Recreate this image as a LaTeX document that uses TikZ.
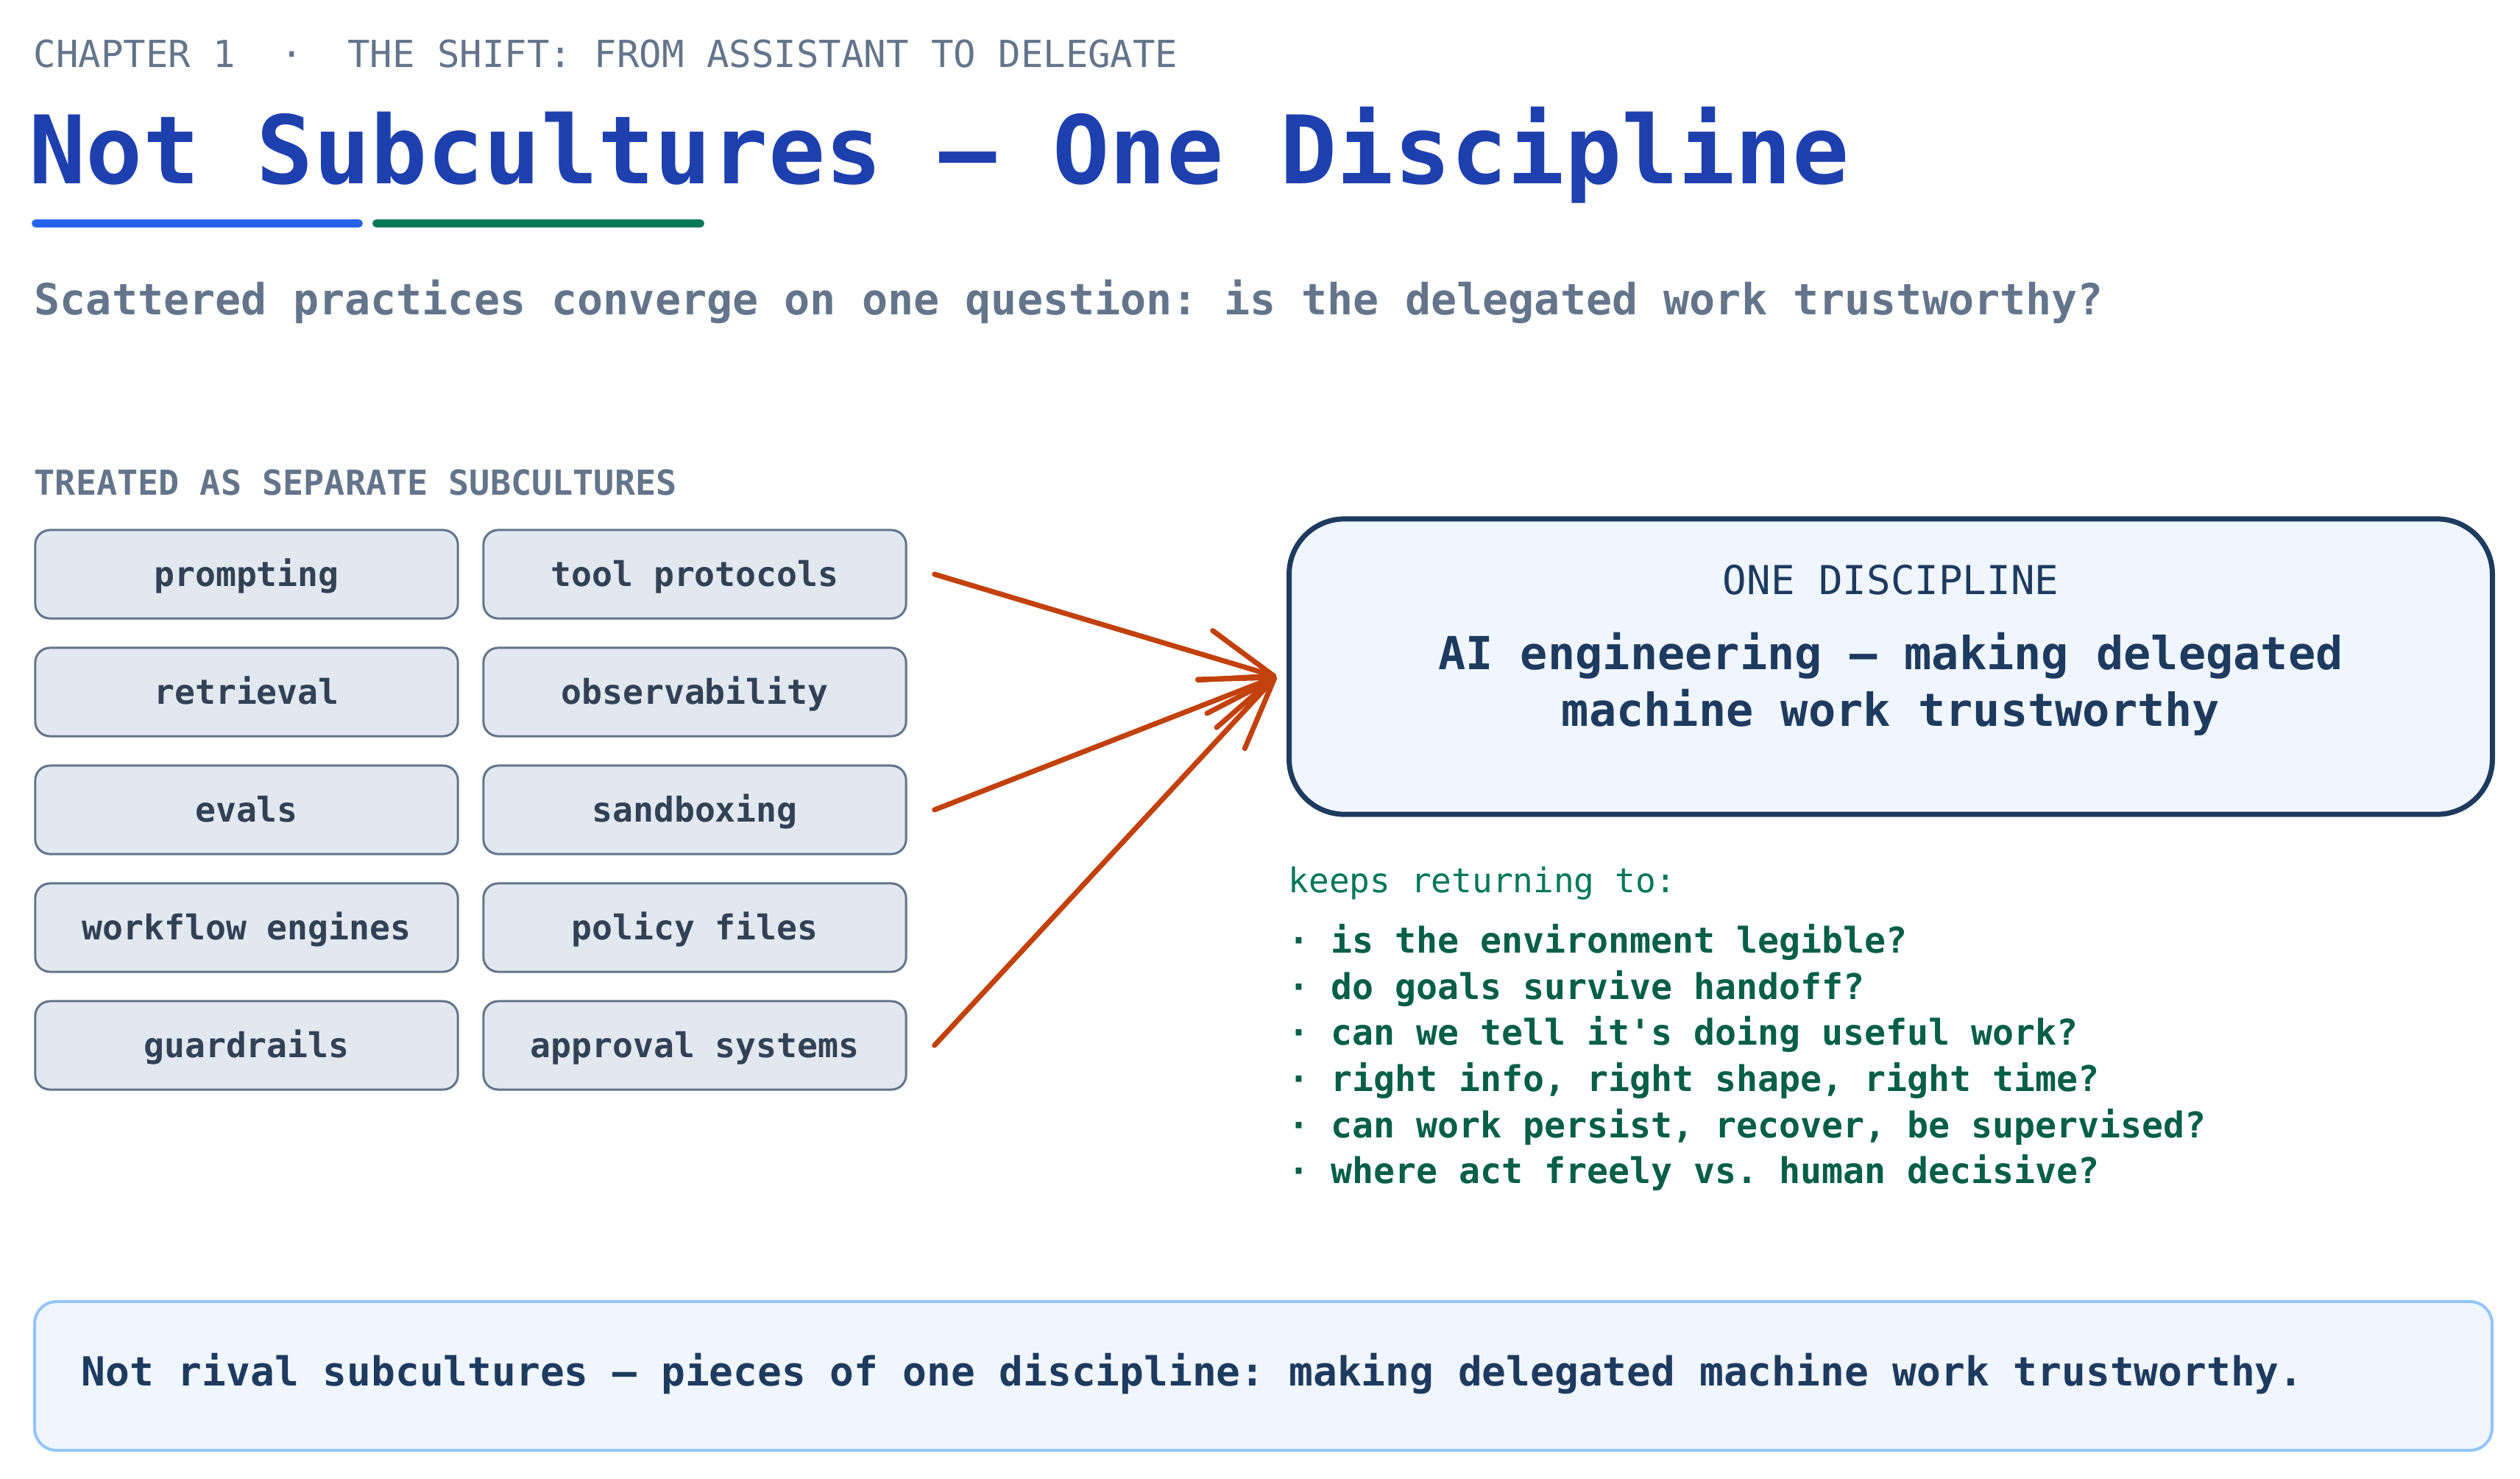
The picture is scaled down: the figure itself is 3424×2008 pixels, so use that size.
\documentclass[tikz,border=0pt]{standalone}
\usepackage{fontspec}
\setmonofont{DejaVu Sans Mono}
\usetikzlibrary{arrows.meta}

\begin{document}
\begin{tikzpicture}[x=0.01cm,y=-0.01cm]
%% Colors
\definecolor{mutedCol}{HTML}{64748B}
\definecolor{titleCol}{HTML}{1E40AF}
\definecolor{barBlue}{HTML}{2563EB}
\definecolor{barGreen}{HTML}{047857}
\definecolor{tagFill}{HTML}{E2E8F0}
\definecolor{tagText}{HTML}{334155}
\definecolor{navyCol}{HTML}{1E3A5F}
\definecolor{paleCol}{HTML}{EFF6FF}
\definecolor{noteEdge}{HTML}{93C5FD}
\definecolor{askCol}{HTML}{065F46}
\definecolor{feedCol}{HTML}{C2410C}
%% Styles
\tikzset{
txt/.style={inner sep=0, anchor=base west},
tag/.style={draw=mutedCol, fill=tagFill, text=tagText, line width=0.03cm,
  rounded corners=0.2cm, minimum width=5.74cm, minimum height=1.2cm,
  text height=0.44cm, text depth=0.12cm, inner sep=0,
  font=\ttfamily\bfseries\fontsize{13.2}{16}\selectfont},
feed/.style={draw=feedCol, line width=0.07cm, line cap=round,
  -{Straight Barb[length=0.97cm,width=0.7cm,round]}}
}
\useasboundingbox (0,0) rectangle (3424,2008);

%% Header
\node[txt, text=mutedCol, font=\ttfamily\fontsize{14.4}{17}\selectfont] (chap) at (45,91)
{CHAPTER 1\ \ ·\ \ THE SHIFT: FROM ASSISTANT TO DELEGATE};
\node[txt, text=titleCol, font=\ttfamily\bfseries\fontsize{36.5}{42}\selectfont] (title) at (39,249)
{Not Subcultures — One Discipline};
\path[draw=barBlue, line width=0.11cm, line cap=round] (48.5,303.5) -- (487.5,303.5);
\path[draw=barGreen, line width=0.11cm, line cap=round] (511.5,303.5) -- (951.5,303.5);
\node[txt, text=mutedCol, font=\ttfamily\bfseries\fontsize{16.6}{20}\selectfont] (sub) at (46,427)
{Scattered practices converge on one question: is the delegated work trustworthy?};

%% Subcultures
\node[txt, text=mutedCol, font=\ttfamily\bfseries\fontsize{13.3}{16}\selectfont] (treated) at (46,672)
{TREATED AS SEPARATE SUBCULTURES};
\foreach \name/\label/\x/\y in {prompt/prompting/335/780,
tools/tool protocols/944/780,
retr/retrieval/335/940,
obs/observability/944/940,
evals/evals/335/1100,
sand/sandboxing/944/1100,
flow/workflow engines/335/1260,
policy/policy files/944/1260,
guard/guardrails/335/1420,
approve/approval systems/944/1420}{
\node[tag] (\name) at (\x,\y) {\label};
}

%% One discipline
\node[draw=navyCol, fill=paleCol, line width=0.07cm, rounded corners=0.75cm,
  minimum width=16.34cm, minimum height=4.01cm] (disc) at (2569,905.5) {};
\node[inner sep=0, anchor=base, text=navyCol, font=\ttfamily\fontsize{15.4}{18}\selectfont] (discHead) at (2569,807)
{ONE DISCIPLINE};
\node[inner sep=0, anchor=base, text=navyCol, font=\ttfamily\bfseries\fontsize{17.6}{22}\selectfont] (discA) at (2569,909)
{AI engineering — making delegated};
\node[inner sep=0, anchor=base, text=navyCol, font=\ttfamily\bfseries\fontsize{17.6}{22}\selectfont] (discB) at (2569,986)
{machine work trustworthy};

% Converging arrows
\coordinate (hub) at ([xshift=-0.14cm,yshift=-0.135cm]disc.west);
\foreach \src in {tools, sand, approve}{
\path[feed] ([xshift=0.37cm]\src.east) -- (hub);
}

%% Questions
\node[txt, text=barGreen, font=\ttfamily\fontsize{13.1}{16}\selectfont] (keeps) at (1750,1212)
{keeps returning to:};
\foreach \q [count=\i] in {is the environment legible?,
do goals survive handoff?,
can we tell it's doing useful work?,
{right info, right shape, right time?},
{can work persist, recover, be supervised?},
where act freely vs. human decisive?}{
\node[txt, text=askCol, font=\ttfamily\bfseries\fontsize{13.7}{16}\selectfont] (ask\i) at (1750,1232+62.6*\i)
{· \q};
}

%% Closing note
\node[draw=noteEdge, fill=paleCol, line width=0.04cm, rounded corners=0.3cm,
  minimum width=33.37cm, minimum height=2.02cm] (note) at (1716.5,1869) {};
\node[txt, text=navyCol, font=\ttfamily\bfseries\fontsize{15.5}{18}\selectfont] (noteText) at (110,1882)
{Not rival subcultures — pieces of one discipline: making delegated machine work trustworthy.};

\end{tikzpicture}
\end{document}
